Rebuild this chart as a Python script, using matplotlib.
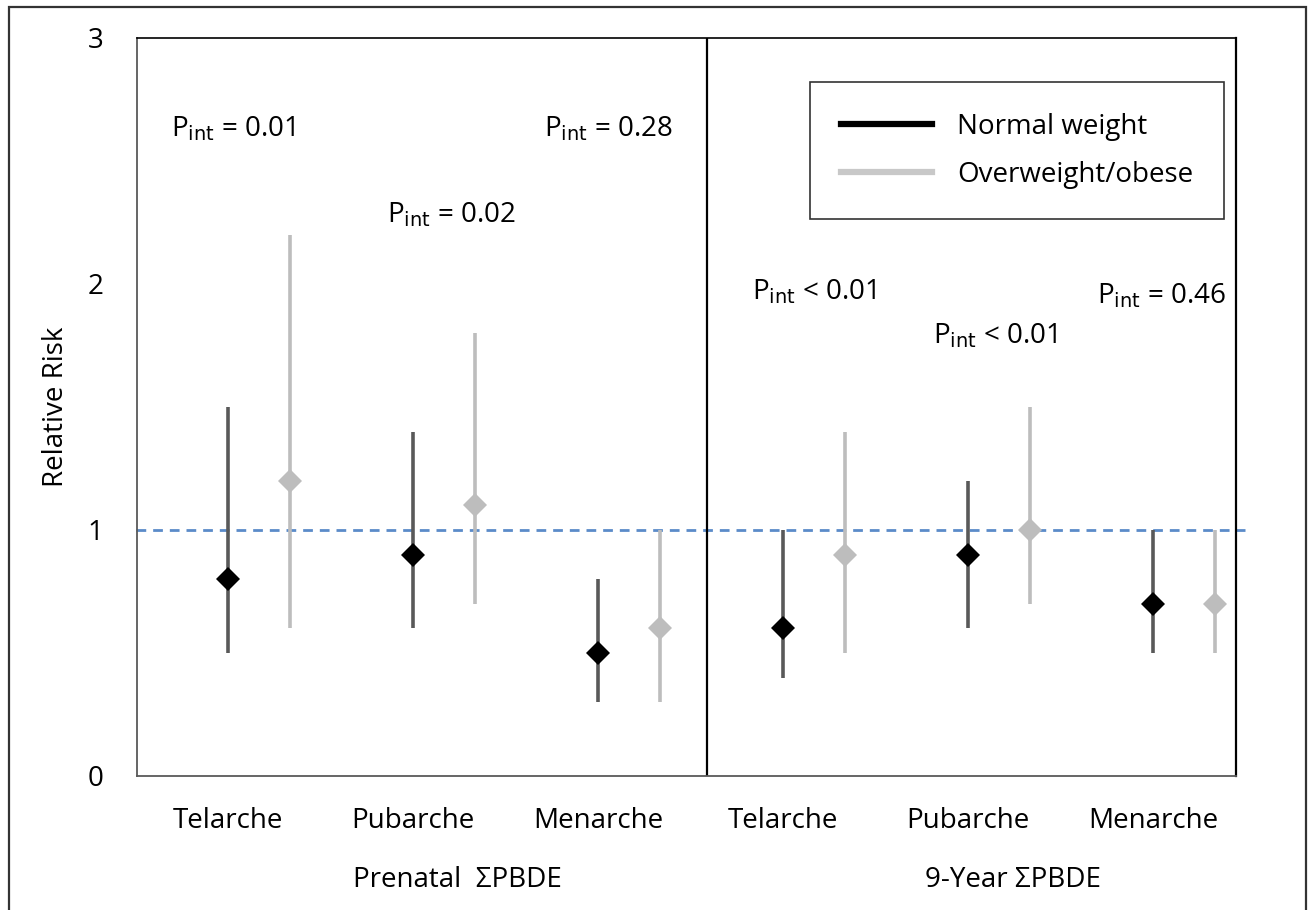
import matplotlib
matplotlib.use("Agg")
import matplotlib.pyplot as plt
from matplotlib.patches import Rectangle
from matplotlib.lines import Line2D

plt.rcParams['font.family'] = ['Open Sans', 'DejaVu Sans']

categories = ["Telarche", "Pubarche", "Menarche", "Telarche", "Pubarche", "Menarche"]
groups = ["Prenatal  ΣPBDE", "9-Year ΣPBDE"]
normal_rr = [0.8, 0.9, 0.5, 0.6, 0.9, 0.7]
normal_lo = [0.5, 0.6, 0.3, 0.4, 0.6, 0.5]
normal_hi = [1.5, 1.4, 0.8, 1.0, 1.2, 1.0]
over_rr = [1.2, 1.1, 0.6, 0.9, 1.0, 0.7]
over_lo = [0.6, 0.7, 0.3, 0.5, 0.7, 0.5]
over_hi = [2.2, 1.8, 1.0, 1.4, 1.5, 1.0]
p_labels = ["= 0.01", "= 0.02", "= 0.28", "< 0.01", "< 0.01", "= 0.46"]
p_ypos = [2.6, 2.25, 2.6, 1.94, 1.76, 1.92]
p_xoff = [-0.31, -0.14, -0.29, -0.17, -0.19, -0.3]
legend_labels = ["Normal weight", "Overweight/obese"]

FS = 20
W, H = 1316, 910
fig = plt.figure(figsize=(W / 100, H / 100), dpi=100)
ax = fig.add_axes([137 / W, 1 - 776 / H, (1236 - 137) / W, (776 - 38) / H])

xs = [i + 1 for i in range(6)]
xo = [x + 0.335 for x in xs]

ax.set_xlim(0.508, 6.449)
ax.set_ylim(0, 3)

# reference line
ax.plot([0.5, 6.5], [1, 1], ls=(0, (3.5, 2.5)), color='#5B8BC9', lw=2, clip_on=False, zorder=1)

# divider
ax.axvline(3.59, color='black', lw=1.6, zorder=2)

nc = '#595959'
oc = '#BDBDBD'
for x, r, lo, hi in zip(xs, normal_rr, normal_lo, normal_hi):
    ax.plot([x, x], [lo, hi], color=nc, lw=2.6, solid_capstyle='butt', zorder=3)
    ax.plot([x], [r], marker='D', color='black', ms=12, mew=0, zorder=4)
for x, r, lo, hi in zip(xo, over_rr, over_lo, over_hi):
    ax.plot([x, x], [lo, hi], color=oc, lw=2.6, solid_capstyle='butt', zorder=3)
    ax.plot([x], [r], marker='D', color=oc, ms=12, mew=0, zorder=4)

for x, lab, y, dx in zip(xs, p_labels, p_ypos, p_xoff):
    ax.text(x + dx, y, r"P$_{\mathrm{int}}$ " + lab, fontsize=FS, ha='left', va='baseline')

ax.set_yticks([0, 1, 2, 3])
ax.set_yticklabels(["0", "1", "2", "3"], fontsize=FS)
ax.tick_params(axis='y', length=0, pad=24)
ax.set_xticks(xs)
ax.set_xticklabels(categories, fontsize=FS)
ax.tick_params(axis='x', length=0, pad=22)
for s in ax.spines.values():
    s.set_color('#595959')
    s.set_linewidth(1.3)
ax.spines['right'].set_color('black')
ax.spines['right'].set_linewidth(1.6)
ax.spines['top'].set_color('black')
ax.spines['top'].set_linewidth(1.2)

ax.set_ylabel("Relative Risk", fontsize=FS, labelpad=13)

# group labels
fig.text(457 / W, 1 - 880 / H, groups[0], fontsize=FS, ha='center', va='center')
fig.text(1013 / W, 1 - 880 / H, groups[1], fontsize=FS, ha='center', va='center')

# legend
handles = [Line2D([0], [0], color='black', lw=4.5),
           Line2D([0], [0], color='#C8C8C8', lw=4.5)]
leg = fig.legend(handles, legend_labels, loc='upper left',
                 bbox_to_anchor=(810 / W, 1 - 82 / H), fontsize=FS,
                 frameon=True, fancybox=False, handlelength=3.3,
                 borderpad=1.1, labelspacing=0.72, handletextpad=0.9,
                 borderaxespad=0)
leg.get_frame().set_edgecolor('black')
leg.get_frame().set_linewidth(1.2)

# outer border
fig.patches.append(Rectangle((9 / W, -0.05), (1306 - 9) / W, (1 - 7 / H) + 0.05,
                             transform=fig.transFigure, fill=False,
                             edgecolor='#333333', lw=1.6, clip_on=False))

fig.savefig("out.png", dpi=100)
